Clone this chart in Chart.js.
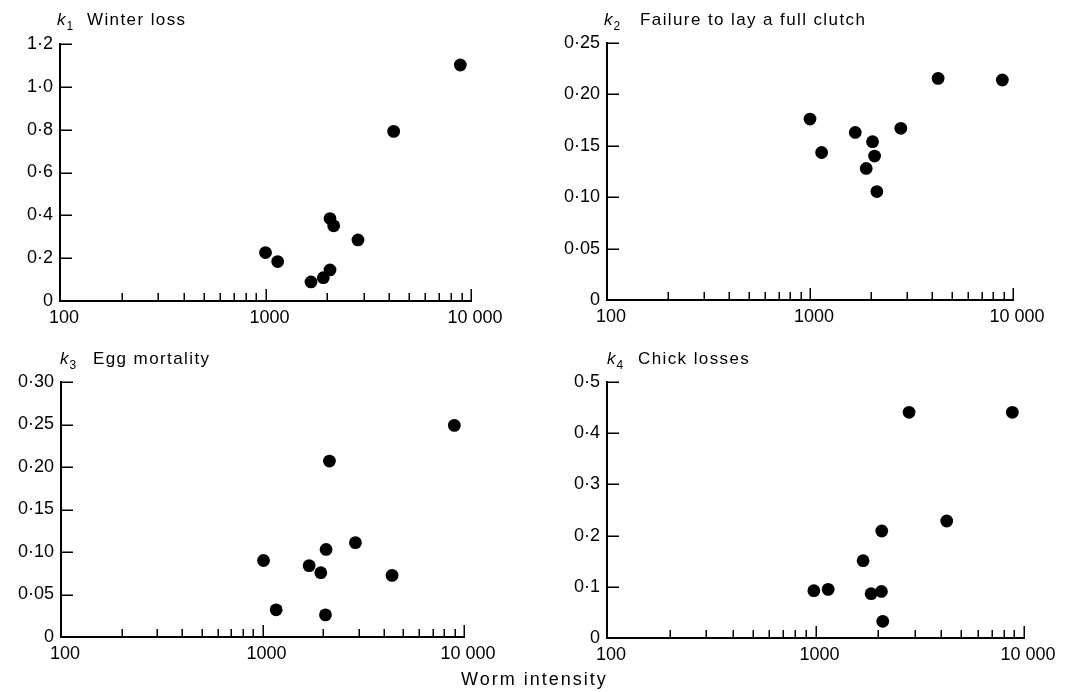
<!DOCTYPE html>
<html><head><meta charset="utf-8">
<script src="https://cdn.jsdelivr.net/npm/chart.js@4.4.1/dist/chart.umd.min.js"></script>
<style>
body{margin:0;background:#fff;width:1072px;height:692px;position:relative;overflow:hidden;font-family:"Liberation Sans",Arial,sans-serif;color:#000}
canvas{position:absolute}
.t{position:absolute;font-size:17px;line-height:17px;letter-spacing:1.4px;white-space:nowrap}
.k{position:absolute;font-size:17px;line-height:17px;font-style:italic;white-space:nowrap}
.k sub{font-style:normal;font-size:12px;vertical-align:-5px;margin-left:1px}
</style></head><body>
<canvas id="c1" width="536" height="330" style="left:0;top:0"></canvas>
<canvas id="c2" width="536" height="330" style="left:536px;top:0"></canvas>
<canvas id="c3" width="536" height="362" style="left:0;top:330px"></canvas>
<canvas id="c4" width="536" height="362" style="left:536px;top:330px"></canvas>
<div class="k" style="left:57px;top:11px">k<sub>1</sub></div>
<div class="t" style="left:87px;top:11px">Winter loss</div>
<div class="k" style="left:604px;top:11px">k<sub>2</sub></div>
<div class="t" style="left:640px;top:11px">Failure to lay a full clutch</div>
<div class="k" style="left:60px;top:350px">k<sub>3</sub></div>
<div class="t" style="left:93px;top:350px">Egg mortality</div>
<div class="k" style="left:607px;top:350px">k<sub>4</sub></div>
<div class="t" style="left:638px;top:350px">Chick losses</div>
<div class="t" style="left:461px;top:671px;font-size:18px;letter-spacing:2px">Worm intensity</div>
<script>
// ---- data ----
const k1X = [1000, 1146, 1665, 1911, 2060, 2060, 2146, 2818, 4204, 8872];
const k1Y = [0.226, 0.184, 0.089, 0.109, 0.145, 0.385, 0.351, 0.285, 0.792, 1.102];
const k2X = [1000, 1141, 1671, 1892, 2033, 2080, 2135, 2802, 4277, 8862];
const k2Y = [0.176, 0.1435, 0.163, 0.128, 0.154, 0.140, 0.1055, 0.167, 0.2156, 0.214];
const k3X = [1012, 1169, 1704, 1947, 2053, 2068, 2149, 2892, 4395, 8955];
const k3Y = [0.090, 0.032, 0.084, 0.0757, 0.026, 0.103, 0.207, 0.111, 0.0725, 0.249];
const k4X = [982, 1150, 1692, 1848, 2071, 2079, 2102, 2811, 4259, 8790];
const k4Y = [0.0924, 0.095, 0.151, 0.0866, 0.091, 0.209, 0.0326, 0.4408, 0.2285, 0.4408];

const xTickValues = [100,200,300,400,500,600,700,800,900,1000,2000,3000,4000,5000,6000,7000,8000,9000,10000];
const xMajorValues = [100, 1000, 10000];
const xMajorLabels = ['100', '1000', '10 000'];

const k1Ticks = [0, 0.2, 0.4, 0.6, 0.8, 1.0, 1.2];
const k1TickLabels = ['0', '0·2', '0·4', '0·6', '0·8', '1·0', '1·2'];
const k2Ticks = [0, 0.05, 0.10, 0.15, 0.20, 0.25];
const k2TickLabels = ['0', '0·05', '0·10', '0·15', '0·20', '0·25'];
const k3Ticks = [0, 0.05, 0.10, 0.15, 0.20, 0.25, 0.30];
const k3TickLabels = ['0', '0·05', '0·10', '0·15', '0·20', '0·25', '0·30'];
const k4Ticks = [0, 0.1, 0.2, 0.3, 0.4, 0.5];
const k4TickLabels = ['0', '0·1', '0·2', '0·3', '0·4', '0·5'];

// ---- layout (chart area boxes inside each canvas) ----
const panels = [
  {id:'c1', xs:k1X, ys:k1Y, yt:k1Ticks, yl:k1TickLabels, area:{l:60, r:471, t:44, b:301}},
  {id:'c2', xs:k2X, ys:k2Y, yt:k2Ticks, yl:k2TickLabels, area:{l:71, r:477, t:43, b:300}},
  {id:'c3', xs:k3X, ys:k3Y, yt:k3Ticks, yl:k3TickLabels, area:{l:61, r:464, t:52, b:307}},
  {id:'c4', xs:k4X, ys:k4Y, yt:k4Ticks, yl:k4TickLabels, area:{l:71, r:488, t:52, b:308}}
];

const inwardTicks = {
  id: 'inwardTicks',
  afterDatasetsDraw(chart) {
    const ctx = chart.ctx, xs = chart.scales.x, ys = chart.scales.y, a = chart.chartArea;
    ctx.save();
    ctx.strokeStyle = '#000';
    ctx.lineWidth = 1.5;
    ctx.beginPath();
    xs.ticks.forEach(t => {
      const px = Math.round(xs.getPixelForValue(t.value)) + 0.25;
      const len = xMajorValues.includes(t.value) ? 12 : 8;
      ctx.moveTo(px, a.bottom);
      ctx.lineTo(px, a.bottom - len);
    });
    ys.ticks.forEach(t => {
      if (t.value === 0) return;
      const py = Math.round(ys.getPixelForValue(t.value)) + 0.25;
      ctx.moveTo(a.left, py);
      ctx.lineTo(a.left + 12, py);
    });
    ctx.stroke();
    ctx.restore();
  }
};

Chart.defaults.font.family = '"Liberation Sans", Arial, sans-serif';
Chart.defaults.color = '#000';

panels.forEach(p => {
  const cv = document.getElementById(p.id);
  const W = cv.width, H = cv.height, A = p.area;
  new Chart(cv, {
    type: 'scatter',
    data: {
      datasets: [{
        data: p.xs.map((x, i) => ({x: x, y: p.ys[i]})),
        backgroundColor: '#000',
        borderWidth: 0,
        pointRadius: 6.4,
        pointHoverRadius: 6.4,
        clip: false
      }]
    },
    options: {
      responsive: false,
      animation: false,
      events: [],
      layout: {padding: {left: 0, top: A.t, right: W - A.r, bottom: 0}},
      plugins: {legend: {display: false}, tooltip: {enabled: false}},
      scales: {
        x: {
          type: 'logarithmic', min: 100, max: 10000,
          grid: {display: false, drawTicks: false},
          border: {display: true, color: '#000', width: 2},
          afterBuildTicks: s => { s.ticks = xTickValues.map(v => ({value: v})); },
          afterFit: s => { s.height = H - A.b; },
          ticks: {
            autoSkip: false, maxRotation: 0, padding: 6, labelOffset: 4,
            font: {size: 18}, color: '#000',
            callback: v => { const i = xMajorValues.indexOf(v); return i >= 0 ? xMajorLabels[i] : ''; }
          }
        },
        y: {
          type: 'linear', min: 0, max: p.yt[p.yt.length - 1],
          grid: {display: false, drawTicks: false},
          border: {display: true, color: '#000', width: 2},
          afterBuildTicks: s => { s.ticks = p.yt.map(v => ({value: v})); },
          afterFit: s => { s.width = A.l; },
          ticks: {
            autoSkip: false, padding: 7, font: {size: 18}, color: '#000',
            callback: (v, i) => p.yl[i]
          }
        }
      }
    },
    plugins: [inwardTicks]
  });
});
</script>
</body></html>
